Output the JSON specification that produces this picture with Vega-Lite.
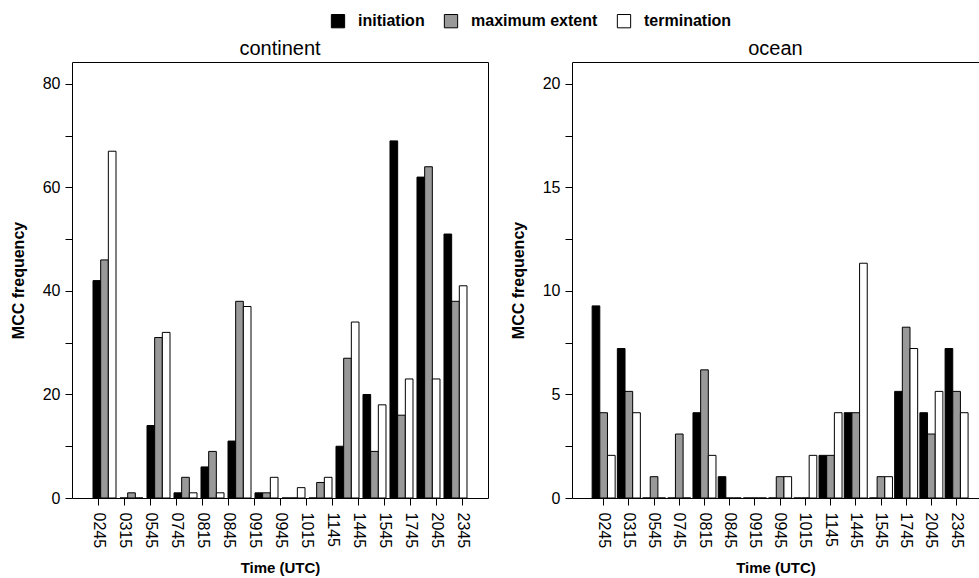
{
  "$schema": "https://vega.github.io/schema/vega-lite/v6.json",
  "padding": {"left": 9, "top": 13, "right": 0, "bottom": 0},
  "background": "white",
  "datasets": {
    "mcc": [
      {"panel": "continent", "time": "0245", "phase": "initiation", "value": 42},
      {"panel": "continent", "time": "0245", "phase": "maximum extent", "value": 46},
      {"panel": "continent", "time": "0245", "phase": "termination", "value": 67},
      {"panel": "continent", "time": "0315", "phase": "initiation", "value": 0},
      {"panel": "continent", "time": "0315", "phase": "maximum extent", "value": 1},
      {"panel": "continent", "time": "0315", "phase": "termination", "value": 0},
      {"panel": "continent", "time": "0545", "phase": "initiation", "value": 14},
      {"panel": "continent", "time": "0545", "phase": "maximum extent", "value": 31},
      {"panel": "continent", "time": "0545", "phase": "termination", "value": 32},
      {"panel": "continent", "time": "0745", "phase": "initiation", "value": 1},
      {"panel": "continent", "time": "0745", "phase": "maximum extent", "value": 4},
      {"panel": "continent", "time": "0745", "phase": "termination", "value": 1},
      {"panel": "continent", "time": "0815", "phase": "initiation", "value": 6},
      {"panel": "continent", "time": "0815", "phase": "maximum extent", "value": 9},
      {"panel": "continent", "time": "0815", "phase": "termination", "value": 1},
      {"panel": "continent", "time": "0845", "phase": "initiation", "value": 11},
      {"panel": "continent", "time": "0845", "phase": "maximum extent", "value": 38},
      {"panel": "continent", "time": "0845", "phase": "termination", "value": 37},
      {"panel": "continent", "time": "0945", "phase": "initiation", "value": 1},
      {"panel": "continent", "time": "0945", "phase": "maximum extent", "value": 1},
      {"panel": "continent", "time": "0945", "phase": "termination", "value": 4},
      {"panel": "continent", "time": "1015", "phase": "initiation", "value": 0},
      {"panel": "continent", "time": "1015", "phase": "maximum extent", "value": 0},
      {"panel": "continent", "time": "1015", "phase": "termination", "value": 2},
      {"panel": "continent", "time": "1145", "phase": "initiation", "value": 0},
      {"panel": "continent", "time": "1145", "phase": "maximum extent", "value": 3},
      {"panel": "continent", "time": "1145", "phase": "termination", "value": 4},
      {"panel": "continent", "time": "1445", "phase": "initiation", "value": 10},
      {"panel": "continent", "time": "1445", "phase": "maximum extent", "value": 27},
      {"panel": "continent", "time": "1445", "phase": "termination", "value": 34},
      {"panel": "continent", "time": "1545", "phase": "initiation", "value": 20},
      {"panel": "continent", "time": "1545", "phase": "maximum extent", "value": 9},
      {"panel": "continent", "time": "1545", "phase": "termination", "value": 18},
      {"panel": "continent", "time": "1745", "phase": "initiation", "value": 69},
      {"panel": "continent", "time": "1745", "phase": "maximum extent", "value": 16},
      {"panel": "continent", "time": "1745", "phase": "termination", "value": 23},
      {"panel": "continent", "time": "2045", "phase": "initiation", "value": 62},
      {"panel": "continent", "time": "2045", "phase": "maximum extent", "value": 64},
      {"panel": "continent", "time": "2045", "phase": "termination", "value": 23},
      {"panel": "continent", "time": "2345", "phase": "initiation", "value": 51},
      {"panel": "continent", "time": "2345", "phase": "maximum extent", "value": 38},
      {"panel": "continent", "time": "2345", "phase": "termination", "value": 41},
      {"panel": "ocean", "time": "0245", "phase": "initiation", "value": 9.28},
      {"panel": "ocean", "time": "0245", "phase": "maximum extent", "value": 4.12},
      {"panel": "ocean", "time": "0245", "phase": "termination", "value": 2.06},
      {"panel": "ocean", "time": "0315", "phase": "initiation", "value": 7.22},
      {"panel": "ocean", "time": "0315", "phase": "maximum extent", "value": 5.15},
      {"panel": "ocean", "time": "0315", "phase": "termination", "value": 4.12},
      {"panel": "ocean", "time": "0545", "phase": "initiation", "value": 0},
      {"panel": "ocean", "time": "0545", "phase": "maximum extent", "value": 1.03},
      {"panel": "ocean", "time": "0545", "phase": "termination", "value": 0},
      {"panel": "ocean", "time": "0745", "phase": "initiation", "value": 0},
      {"panel": "ocean", "time": "0745", "phase": "maximum extent", "value": 3.09},
      {"panel": "ocean", "time": "0745", "phase": "termination", "value": 0},
      {"panel": "ocean", "time": "0815", "phase": "initiation", "value": 4.12},
      {"panel": "ocean", "time": "0815", "phase": "maximum extent", "value": 6.19},
      {"panel": "ocean", "time": "0815", "phase": "termination", "value": 2.06},
      {"panel": "ocean", "time": "0845", "phase": "initiation", "value": 1.03},
      {"panel": "ocean", "time": "0845", "phase": "maximum extent", "value": 0},
      {"panel": "ocean", "time": "0845", "phase": "termination", "value": 0},
      {"panel": "ocean", "time": "0915", "phase": "initiation", "value": 0},
      {"panel": "ocean", "time": "0915", "phase": "maximum extent", "value": 0},
      {"panel": "ocean", "time": "0915", "phase": "termination", "value": 0},
      {"panel": "ocean", "time": "0945", "phase": "initiation", "value": 0},
      {"panel": "ocean", "time": "0945", "phase": "maximum extent", "value": 1.03},
      {"panel": "ocean", "time": "0945", "phase": "termination", "value": 1.03},
      {"panel": "ocean", "time": "1015", "phase": "initiation", "value": 0},
      {"panel": "ocean", "time": "1015", "phase": "maximum extent", "value": 0},
      {"panel": "ocean", "time": "1015", "phase": "termination", "value": 2.06},
      {"panel": "ocean", "time": "1145", "phase": "initiation", "value": 2.06},
      {"panel": "ocean", "time": "1145", "phase": "maximum extent", "value": 2.06},
      {"panel": "ocean", "time": "1145", "phase": "termination", "value": 4.12},
      {"panel": "ocean", "time": "1445", "phase": "initiation", "value": 4.12},
      {"panel": "ocean", "time": "1445", "phase": "maximum extent", "value": 4.12},
      {"panel": "ocean", "time": "1445", "phase": "termination", "value": 11.34},
      {"panel": "ocean", "time": "1545", "phase": "initiation", "value": 0},
      {"panel": "ocean", "time": "1545", "phase": "maximum extent", "value": 1.03},
      {"panel": "ocean", "time": "1545", "phase": "termination", "value": 1.03},
      {"panel": "ocean", "time": "1745", "phase": "initiation", "value": 5.15},
      {"panel": "ocean", "time": "1745", "phase": "maximum extent", "value": 8.25},
      {"panel": "ocean", "time": "1745", "phase": "termination", "value": 7.22},
      {"panel": "ocean", "time": "2045", "phase": "initiation", "value": 4.12},
      {"panel": "ocean", "time": "2045", "phase": "maximum extent", "value": 3.09},
      {"panel": "ocean", "time": "2045", "phase": "termination", "value": 5.15},
      {"panel": "ocean", "time": "2345", "phase": "initiation", "value": 7.22},
      {"panel": "ocean", "time": "2345", "phase": "maximum extent", "value": 5.15},
      {"panel": "ocean", "time": "2345", "phase": "termination", "value": 4.12}
    ],
    "times": [
      {"time": "0245"}, {"time": "0315"}, {"time": "0545"}, {"time": "0745"}, {"time": "0815"},
      {"time": "0845"}, {"time": "0915"}, {"time": "0945"}, {"time": "1015"}, {"time": "1145"},
      {"time": "1445"}, {"time": "1545"}, {"time": "1745"}, {"time": "2045"}, {"time": "2345"}
    ]
  },
  "config": {
    "font": "Liberation Sans",
    "view": {"stroke": "black", "strokeWidth": 1},
    "axis": {
      "grid": false, "domain": false, "tickColor": "black", "tickSize": 7, "tickWidth": 1,
      "labelColor": "black", "labelFontSize": 16, "labelFont": "Liberation Sans",
      "titleColor": "black", "titleFontSize": 15, "titleFontWeight": "bold", "titleFont": "Liberation Sans"
    },
    "title": {"fontSize": 20, "fontWeight": "normal", "color": "black", "font": "Liberation Sans", "offset": 3}
  },
  "spacing": 20,
  "hconcat": [
    {
      "title": "continent",
      "width": 416,
      "height": 436,
      "layer": [
        {
          "data": {"name": "mcc"},
          "transform": [{"filter": "datum.panel === 'continent'"}],
          "mark": {"type": "bar", "stroke": "black", "strokeWidth": 1},
          "encoding": {
            "x": {"field": "time", "type": "nominal", "axis": null,
                  "scale": {"paddingInner": 0.148, "paddingOuter": 0.778}},
            "xOffset": {"field": "phase", "type": "nominal",
                        "scale": {"domain": ["initiation", "maximum extent", "termination"], "paddingInner": 0, "paddingOuter": 0}},
            "y": {"field": "value", "type": "quantitative",
                  "scale": {"domain": [0, 84.24], "nice": false},
                  "axis": {"title": "MCC frequency", "titleFontSize": 16, "values": [0, 10, 20, 30, 40, 50, 60, 70, 80],
                           "labelExpr": "datum.value % 20 === 0 ? datum.label : ''",
                           "labelPadding": 5, "titlePadding": 16}},
            "fill": {"field": "phase", "type": "nominal",
                     "scale": {"domain": ["initiation", "maximum extent", "termination"], "range": ["#000000", "#999999", "#ffffff"]},
                     "legend": {"orient": "none", "legendX": 258, "legendY": -49, "direction": "horizontal", "title": null,
                                "symbolType": "square", "symbolSize": 177, "symbolStrokeColor": "black", "symbolStrokeWidth": 1,
                                "labelFontSize": 16, "labelFontWeight": "bold", "labelColor": "black", "labelFont": "Liberation Sans",
                                "labelOffset": 12, "columnPadding": 17, "padding": 0}}
          }
        },
        {
          "data": {"name": "times"},
          "mark": {"type": "point", "opacity": 0},
          "encoding": {
            "x": {"field": "time", "type": "nominal",
                  "scale": {"padding": 1.25},
                  "axis": {"title": "Time (UTC)", "labelAngle": 90, "labelPadding": 7, "titlePadding": 13}}
          }
        }
      ],
      "resolve": {"scale": {"x": "independent"}, "axis": {"x": "independent"}}
    },
    {
      "title": "ocean",
      "width": 407,
      "height": 436,
      "data": {"name": "mcc"},
      "transform": [{"filter": "datum.panel === 'ocean'"}],
      "mark": {"type": "bar", "stroke": "black", "strokeWidth": 1},
      "encoding": {
        "x": {"field": "time", "type": "nominal",
              "scale": {"paddingInner": 0.083, "paddingOuter": 0.6135, "align": 0.651},
              "axis": {"title": "Time (UTC)", "labelAngle": 90, "labelPadding": 7, "titlePadding": 13}},
        "xOffset": {"field": "phase", "type": "nominal",
                    "scale": {"domain": ["initiation", "maximum extent", "termination"], "paddingInner": 0, "paddingOuter": 0}},
        "y": {"field": "value", "type": "quantitative",
              "scale": {"domain": [0, 21.06], "nice": false},
              "axis": {"title": "MCC frequency", "titleFontSize": 16, "values": [0, 2.5, 5, 7.5, 10, 12.5, 15, 17.5, 20],
                       "labelExpr": "datum.value % 5 === 0 ? datum.label : ''",
                       "labelPadding": 5, "titlePadding": 16}},
        "fill": {"field": "phase", "type": "nominal",
                 "scale": {"domain": ["initiation", "maximum extent", "termination"], "range": ["#000000", "#999999", "#ffffff"]}}
      }
    }
  ]
}
